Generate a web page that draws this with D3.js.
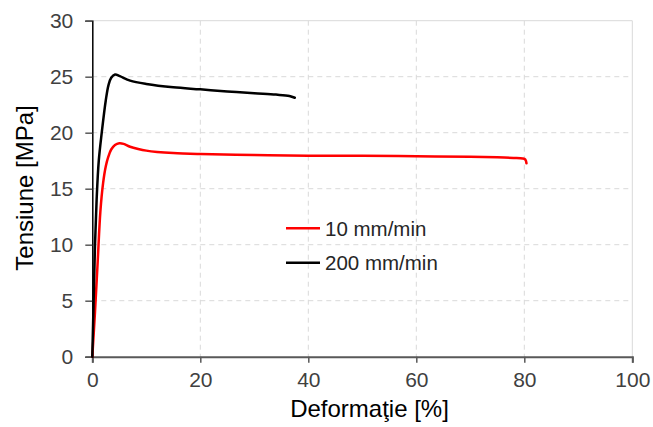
<!DOCTYPE html>
<html>
<head>
<meta charset="utf-8">
<script src="https://cdn.jsdelivr.net/npm/d3@7"></script>
<style>
  html, body { margin: 0; padding: 0; background: #fff; }
  svg { display: block; font-family: "Liberation Sans", Arial, sans-serif; }
</style>
</head>
<body>
<svg id="chart" width="653" height="427"></svg>
<script>
// Stress–strain curves at two test speeds
const strain200 = [0, 0.25, 0.5, 0.8, 1.2, 1.75, 2.5, 3.0, 3.5, 4.2, 5.1, 7, 10, 15, 20, 25, 30, 34, 36.5, 37.5];
const stress200 = [0, 5, 10, 14, 17.5, 20, 22.9, 24.25, 24.9, 25.2, 25.05, 24.65, 24.35, 24.05, 23.87, 23.68, 23.52, 23.4, 23.28, 23.12];

const strain10 = [0, 0.5, 1.0, 1.5, 2.0, 2.5, 3.0, 3.5, 4.2, 5.0, 5.8, 7, 8.5, 10, 12, 15, 20, 30, 40, 50, 60, 70, 75, 78, 79.7, 80.2, 80.4];
const stress10 = [0, 4, 8.5, 13, 15.5, 17, 17.9, 18.5, 18.9, 19.05, 19.0, 18.75, 18.55, 18.4, 18.28, 18.18, 18.1, 18.0, 17.95, 17.95, 17.9, 17.85, 17.8, 17.75, 17.7, 17.6, 17.27];

const xTicks = [0, 20, 40, 60, 80, 100];
const yTicks = [0, 5, 10, 15, 20, 25, 30];

const seriesNames = ["10 mm/min", "200 mm/min"];
const seriesColors = ["#ff0000", "#000000"];

const svg = d3.select("#chart");
const plotLeft = 92.3, plotRight = 632.3, plotTop = 20.7, plotBottom = 356.7;

const x = d3.scaleLinear().domain([0, 100]).range([plotLeft, plotRight]);
const y = d3.scaleLinear().domain([0, 30]).range([plotBottom, plotTop]);

// dashed gridlines
svg.append("g").selectAll("line").data(xTicks.filter(d => d > 0 && d < 100)).join("line")
  .attr("x1", d => x(d)).attr("x2", d => x(d)).attr("y1", plotTop).attr("y2", plotBottom)
  .attr("stroke", "#d9d9d9").attr("stroke-width", 1).attr("stroke-dasharray", "5,4");
svg.append("g").selectAll("line").data(yTicks.filter(d => d > 0 && d < 30)).join("line")
  .attr("x1", plotLeft).attr("x2", plotRight).attr("y1", d => y(d)).attr("y2", d => y(d))
  .attr("stroke", "#d9d9d9").attr("stroke-width", 1).attr("stroke-dasharray", "5,4");

// plot frame (top and right)
svg.append("line").attr("x1", plotLeft).attr("x2", plotRight).attr("y1", plotTop).attr("y2", plotTop)
  .attr("stroke", "#d9d9d9").attr("stroke-width", 1);
svg.append("line").attr("x1", plotRight).attr("x2", plotRight).attr("y1", plotTop).attr("y2", plotBottom)
  .attr("stroke", "#d9d9d9").attr("stroke-width", 1);

// axes
const tickFont = "21px";
const xAxis = svg.append("g").attr("transform", `translate(0,${plotBottom})`)
  .call(d3.axisBottom(x).tickValues(xTicks).tickSize(6).tickPadding(9).tickFormat(d3.format("d")));
xAxis.select(".domain").attr("stroke", "#595959").attr("stroke-width", 2);
xAxis.selectAll(".tick line").attr("stroke", "#595959").attr("stroke-width", 1.5);
xAxis.selectAll("text").attr("fill", "#404040").style("font-size", tickFont)
  .style("font-family", "'Liberation Sans', Arial, sans-serif");

const yAxis = svg.append("g").attr("transform", `translate(${plotLeft},0)`)
  .call(d3.axisLeft(y).tickValues(yTicks).tickSize(7).tickPadding(12).tickFormat(d3.format("d")));
yAxis.select(".domain").attr("stroke", "#000").attr("stroke-width", 1.5);
yAxis.selectAll(".tick line").attr("stroke", "#595959").attr("stroke-width", 1.5);
yAxis.selectAll("text").attr("fill", "#404040").style("font-size", tickFont)
  .style("font-family", "'Liberation Sans', Arial, sans-serif");

// curves
const line = d3.line().x(d => x(d[0])).y(d => y(d[1])).curve(d3.curveCatmullRom.alpha(0.5));
const series = [
  d3.zip(strain10, stress10),
  d3.zip(strain200, stress200)
];
svg.append("g").selectAll("path").data(series).join("path")
  .attr("d", line)
  .attr("fill", "none")
  .attr("stroke", (d, i) => seriesColors[i])
  .attr("stroke-width", 2.5)
  .attr("stroke-linejoin", "round")
  .attr("stroke-linecap", "round");

// legend
const legend = svg.append("g").attr("transform", "translate(286,228.3)");
seriesNames.forEach((name, i) => {
  const g = legend.append("g").attr("transform", `translate(0,${i * 34.4})`);
  g.append("line").attr("x1", 0).attr("x2", 34).attr("y1", 0).attr("y2", 0)
    .attr("stroke", seriesColors[i]).attr("stroke-width", 2.5);
  g.append("text").attr("x", 39).attr("y", 7.3).attr("fill", "#262626")
    .style("font-size", "20.5px").text(name);
});

// axis titles
svg.append("text").attr("x", 369.5).attr("y", 417).attr("text-anchor", "middle")
  .attr("fill", "#000").style("font-size", "24px").text("Deformaţie [%]");
svg.append("text").attr("transform", "translate(33,188) rotate(-90)").attr("text-anchor", "middle")
  .attr("fill", "#000").style("font-size", "24px").text("Tensiune [MPa]");
</script>
</body>
</html>
